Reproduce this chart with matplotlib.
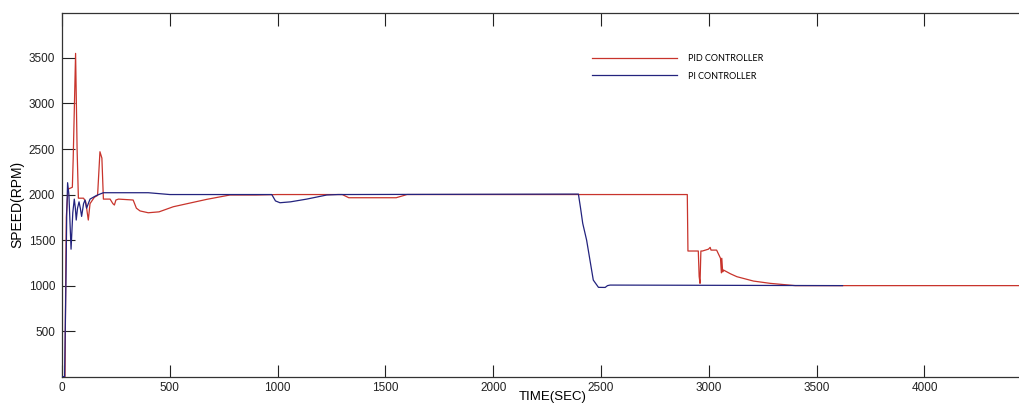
import matplotlib
matplotlib.use("Agg")
import matplotlib.pyplot as plt

# ---- data ----
pid_t = [0, 14, 17, 20, 25, 29, 48, 52, 63, 70, 76, 100, 110, 122, 130, 150, 165,
         176, 185, 192, 223, 236, 243, 250, 262, 330, 345, 362, 400, 450, 516, 600,
         671, 779, 900, 1000, 1300, 1330, 1550, 1600, 2900, 2903, 2951, 2955, 2959,
         2963, 2970, 2998, 3006, 3010, 3036, 3054, 3058, 3060, 3064, 3068, 3100,
         3130, 3207, 3284, 3400, 4450]
pid_speed = [0, 0, 1000, 1750, 1950, 2060, 2080, 2400, 3550, 2500, 1960, 1960, 1920,
             1720, 1900, 1970, 1990, 2470, 2400, 1950, 1950, 1900, 1885, 1940, 1950,
             1940, 1850, 1820, 1800, 1810, 1866, 1910, 1947, 1995, 1995, 2000, 2000,
             1965, 1965, 2000, 2000, 1380, 1380, 1100, 1025, 1380, 1380, 1400, 1420,
             1390, 1390, 1300, 1140, 1300, 1150, 1171, 1130, 1098, 1050, 1025, 1000,
             1000]

pi_t = [0, 12, 18, 22, 26, 32, 42, 50, 57, 62, 66, 72, 79, 85, 91, 100, 107, 114,
        130, 160, 192, 400, 500, 973, 990, 1011, 1060, 1135, 1228, 1280, 2395, 2405,
        2415, 2433, 2464, 2488, 2519, 2530, 2542, 3620]
pi_speed = [0, 0, 1000, 1800, 2130, 2000, 1400, 1800, 1950, 1850, 1720, 1850, 1920,
            1850, 1760, 1900, 1940, 1850, 1950, 1990, 2020, 2020, 2000, 2000, 1930,
            1910, 1920, 1950, 1995, 2000, 2005, 1850, 1684, 1500, 1061, 981, 980,
            1000, 1006, 1000]

series_labels = ["PID CONTROLLER", "PI CONTROLLER"]
x_ticks = [0, 500, 1000, 1500, 2000, 2500, 3000, 3500, 4000]
y_ticks = [500, 1000, 1500, 2000, 2500, 3000, 3500]

# ---- figure ----
plt.rcParams['font.family'] = ['Liberation Sans', 'DejaVu Sans']
fig = plt.figure(figsize=(10.2, 4.09), dpi=100)
ax = fig.add_axes([62/1020, 1 - 376.7/409, 1 - 62/1020, (376.7 - 13.3)/409])

red = '#c8342c'
blue = '#23237e'
ax.plot(pid_t, pid_speed, color=red, lw=0.9, label=series_labels[0], zorder=2)
ax.plot(pi_t, pi_speed, color=blue, lw=0.9, label=series_labels[1], zorder=3)

ax.set_xlim(0, 4443)
ax.set_ylim(0, 3990)
ax.set_xticks(x_ticks)
ax.set_yticks(y_ticks)
ax.tick_params(axis='both', direction='in', length=9, width=0.8, colors='#222222',
               labelsize=8.5, top=True, right=False)
ax.tick_params(axis='x', pad=4)
ax.tick_params(axis='y', pad=5)
for s in ['left', 'bottom', 'top']:
    ax.spines[s].set_color('#333333')
    ax.spines[s].set_linewidth(0.9)
ax.spines['right'].set_visible(False)

ax.set_xlabel('TIME(SEC)', fontsize=9.5)
ax.set_ylabel('SPEED(RPM)', fontsize=10)
ax.xaxis.set_label_coords((553 - 62) / 958, -(391 - 376.7) / 363.4)
ax.yaxis.set_label_coords((24 - 62) / 958, (376.7 - 204) / 363.4)

leg = ax.legend(loc='upper left', bbox_to_anchor=(592/1020, 1 - 54/409),
                bbox_transform=fig.transFigure, frameon=False,
                prop={'family': 'Lato', 'size': 6.5}, handlelength=9.4,
                handletextpad=1.2, labelspacing=0.95, borderpad=0, borderaxespad=0)
for h in leg.get_lines():
    h.set_linewidth(0.9)

fig.savefig('out.png', dpi=100)
